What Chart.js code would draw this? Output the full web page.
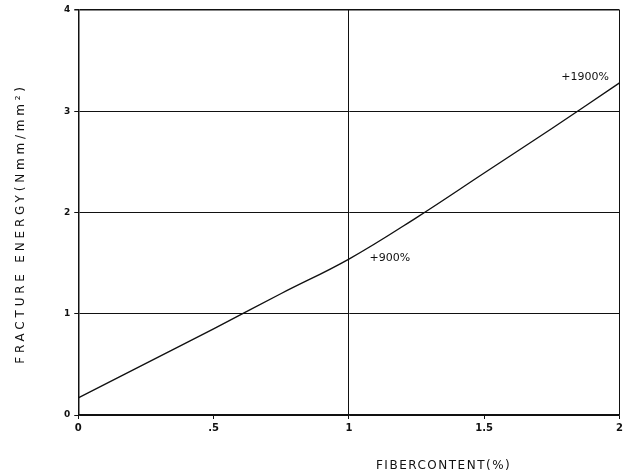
<!DOCTYPE html>
<html>
<head>
<meta charset="utf-8">
<script src="https://cdn.jsdelivr.net/npm/chart.js@4/dist/chart.umd.min.js"></script>
<style>
  html, body { margin: 0; padding: 0; background: #fff; }
  #wrap { width: 626px; height: 476px; }
</style>
</head>
<body>
<div id="wrap"><canvas id="chart"></canvas></div>
<script>
// fracture energy vs fiber content
const fiberContent = [0, 0.25, 0.5, 0.75, 1, 1.25, 1.5, 1.75, 2];
const fractureEnergy = [0.17, 0.51, 0.85, 1.2, 1.54, 1.95, 2.39, 2.83, 3.28];
const xTickValues = [0, 0.5, 1, 1.5, 2];
const xTickLabels = ['0', '.5', '1', '1.5', '2'];
const yTickValues = [0, 1, 2, 3, 4];
const noteText = ['+900%', '+1900%'];
const noteX = [1.076, 1.785];
const noteY = [1.55, 3.34];

const ink = '#111';

// axis titles and the percent notes
const textPlugin = {
  id: 'texts',
  afterDraw(chart) {
    const { ctx, chartArea, scales } = chart;
    ctx.save();
    ctx.fillStyle = ink;
    ctx.textBaseline = 'middle';
    ctx.font = '11px "DejaVu Sans"';
    ctx.textAlign = 'left';
    noteText.forEach((t, i) => {
      ctx.fillText(t, scales.x.getPixelForValue(noteX[i]), scales.y.getPixelForValue(noteY[i]));
    });

    ctx.letterSpacing = '1.5px';
    ctx.font = '12px "DejaVu Sans"';
    ctx.textAlign = 'center';
    ctx.fillText('FIBERCONTENT(%)', scales.x.getPixelForValue(1.35), chartArea.bottom + 51);

    ctx.translate(21, (chartArea.top + chartArea.bottom) / 2 + 11);
    ctx.rotate(-Math.PI / 2);
    ctx.letterSpacing = '3.8px';
    ctx.font = '12px "DejaVu Sans"';
    ctx.fillText('FRACTURE ENERGY(Nmm/mm²)', 0, 0);
    ctx.restore();
  }
};

new Chart(document.getElementById('chart'), {
  type: 'line',
  data: {
    datasets: [{
      data: fiberContent.map((x, i) => ({ x: x, y: fractureEnergy[i] })),
      borderColor: ink,
      borderWidth: 1.4,
      pointRadius: 0,
      tension: 0.4,
      fill: false
    }]
  },
  options: {
    responsive: true,
    maintainAspectRatio: false,
    animation: false,
    layout: { padding: { left: 60, right: 6, top: 10, bottom: 39 } },
    plugins: { legend: { display: false }, tooltip: { enabled: false } },
    scales: {
      x: {
        type: 'linear',
        min: 0,
        max: 2,
        afterBuildTicks: axis => { axis.ticks = xTickValues.map(v => ({ value: v })); },
        ticks: {
          color: ink,
          font: { family: 'DejaVu Sans', size: 10, weight: 'bold' },
          padding: 3,
          maxRotation: 0,
          callback: (v, i) => xTickLabels[i]
        },
        grid: {
          color: c => (c.tick && (c.tick.value === 1 || c.tick.value === 2)) ? ink : 'rgba(0,0,0,0)',
          tickColor: ink,
          tickLength: 4,
          lineWidth: 1
        },
        border: { color: ink, width: 1.5 }
      },
      y: {
        min: 0,
        max: 4,
        afterBuildTicks: axis => { axis.ticks = yTickValues.map(v => ({ value: v })); },
        ticks: {
          color: ink,
          font: { family: 'DejaVu Sans', size: 9, weight: 'bold' },
          padding: 4
        },
        grid: {
          color: ink,
          tickColor: ink,
          tickLength: 4,
          lineWidth: c => (c.tick && c.tick.value === 4) ? 1.5 : 1
        },
        border: { color: ink, width: 1.5 }
      }
    }
  },
  plugins: [textPlugin]
});
</script>
</body>
</html>
